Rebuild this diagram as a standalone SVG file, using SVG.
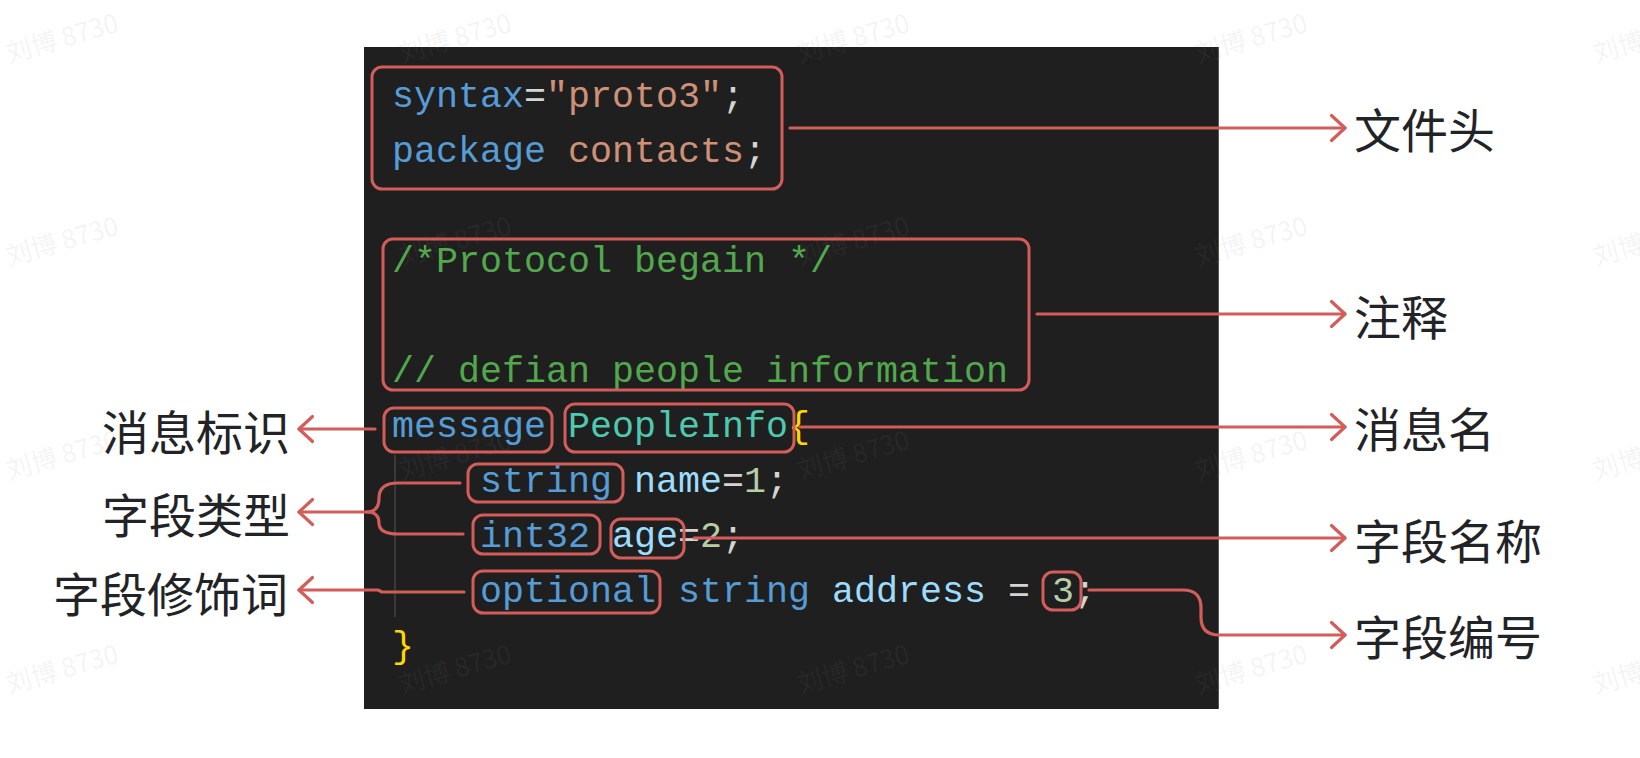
<svg xmlns="http://www.w3.org/2000/svg" width="1640" height="758" viewBox="0 0 1640 758">
<style>
.code{font-family:"Liberation Mono","DejaVu Sans Mono",monospace;font-size:36.67px}
.kw{fill:#569CD6}.str{fill:#CE9178}.pn{fill:#D4D4D4}.cm{fill:#52A84C}.ty{fill:#4EC9B0}.br{fill:#FFD700}.id{fill:#9CDCFE}.num{fill:#B5CEA8}
.box{fill:none;stroke:#D35D5A;stroke-width:3}
.conn{fill:none;stroke:#D35D5A;stroke-width:3.2;stroke-linecap:round;stroke-linejoin:round}
.lbl{font-family:"Noto Sans CJK SC","Noto Sans",sans-serif;font-size:47px;fill:#222326}
.wm{font-family:"Noto Sans CJK SC","Noto Sans",sans-serif;font-size:26px;fill:#888;fill-opacity:0.09}
</style>
<defs>
<marker id="arr" markerUnits="userSpaceOnUse" markerWidth="1" markerHeight="1" refX="0" refY="0" orient="auto" overflow="visible">
<path d="M-13.5,-12.5 L0,0 L-13.5,12.5" fill="none" stroke="#D35D5A" stroke-width="3.2" stroke-linecap="round" stroke-linejoin="round"/>
</marker>
</defs>
<rect width="1640" height="758" fill="#FFFFFF"/>
<g id="panel">
<rect x="364" y="47" width="855" height="662" fill="#1F1F1F"/>
<line x1="1218.5" y1="47" x2="1218.5" y2="709" stroke="#555" stroke-width="1"/>
<line x1="395" y1="455" x2="395" y2="617" stroke="#444" stroke-width="1.5"/>
</g>
<g id="code" class="code">
<text y="107"><tspan x="392" class="kw">syntax</tspan><tspan x="524" class="pn">=</tspan><tspan x="546" class="str">"proto3"</tspan><tspan x="722" class="pn">;</tspan></text>
<text y="162"><tspan x="392" class="kw">package</tspan><tspan x="568" class="str">contacts</tspan><tspan x="744" class="pn">;</tspan></text>
<text y="272" x="392" class="cm">/*Protocol begain */</text>
<text y="382" x="392" class="cm">// defian people information</text>
<text y="437"><tspan x="392" class="kw">message</tspan><tspan x="568" class="ty">PeopleInfo</tspan><tspan x="788" class="br">{</tspan></text>
<text y="492"><tspan x="480" class="kw">string</tspan><tspan x="634" class="id">name</tspan><tspan x="722" class="pn">=</tspan><tspan x="744" class="num">1</tspan><tspan x="766" class="pn">;</tspan></text>
<text y="547"><tspan x="480" class="kw">int32</tspan><tspan x="612" class="id">age</tspan><tspan x="678" class="pn">=</tspan><tspan x="700" class="num">2</tspan><tspan x="722" class="pn">;</tspan></text>
<text y="602"><tspan x="480" class="kw">optional</tspan><tspan x="678" class="kw">string</tspan><tspan x="832" class="id">address</tspan><tspan x="1008" class="pn">=</tspan><tspan x="1052" class="num">3</tspan><tspan x="1074" class="pn">;</tspan></text>
<text y="657" x="392" class="br">}</text>
</g>
<g id="watermarks" class="wm">
<text transform="translate(9,63) rotate(-16)">刘博 8730</text>
<text transform="translate(402,63) rotate(-16)">刘博 8730</text>
<text transform="translate(800,63) rotate(-16)">刘博 8730</text>
<text transform="translate(1198,63) rotate(-16)">刘博 8730</text>
<text transform="translate(1596,63) rotate(-16)">刘博 8730</text>
<text transform="translate(9,266) rotate(-16)">刘博 8730</text>
<text transform="translate(402,266) rotate(-16)">刘博 8730</text>
<text transform="translate(800,266) rotate(-16)">刘博 8730</text>
<text transform="translate(1198,266) rotate(-16)">刘博 8730</text>
<text transform="translate(1596,266) rotate(-16)">刘博 8730</text>
<text transform="translate(9,480) rotate(-16)">刘博 8730</text>
<text transform="translate(402,480) rotate(-16)">刘博 8730</text>
<text transform="translate(800,480) rotate(-16)">刘博 8730</text>
<text transform="translate(1198,480) rotate(-16)">刘博 8730</text>
<text transform="translate(1596,480) rotate(-16)">刘博 8730</text>
<text transform="translate(9,694) rotate(-16)">刘博 8730</text>
<text transform="translate(402,694) rotate(-16)">刘博 8730</text>
<text transform="translate(800,694) rotate(-16)">刘博 8730</text>
<text transform="translate(1198,694) rotate(-16)">刘博 8730</text>
<text transform="translate(1596,694) rotate(-16)">刘博 8730</text>
</g>
<g id="box-header"><rect class="box" x="372" y="67" width="410" height="122" rx="10"/></g>
<g id="box-comment"><rect class="box" x="383" y="239" width="646" height="151" rx="10"/></g>
<g id="box-message"><rect class="box" x="384" y="408" width="168" height="44" rx="10"/></g>
<g id="box-peopleinfo"><rect class="box" x="565" y="404" width="229" height="48" rx="10"/></g>
<g id="box-string"><rect class="box" x="468" y="464" width="155" height="38" rx="10"/></g>
<g id="box-int32"><rect class="box" x="473" y="515" width="127" height="39" rx="10"/></g>
<g id="box-age"><rect class="box" x="611" y="519" width="73" height="39" rx="10"/></g>
<g id="box-optional"><rect class="box" x="473" y="571" width="187" height="42" rx="10"/></g>
<g id="box-num"><rect class="box" x="1043" y="572" width="38" height="38" rx="10"/></g>
<g id="connectors">
<path class="conn" d="M790,128 H1345" marker-end="url(#arr)"/>
<path class="conn" d="M1037,314 H1345" marker-end="url(#arr)"/>
<path class="conn" d="M800,427 H1345" marker-end="url(#arr)"/>
<path class="conn" d="M694,538 H1345" marker-end="url(#arr)"/>
<path class="conn" d="M1089,590 H1183 Q1201,590 1201,608 V617 Q1201,635 1219,635 H1345" marker-end="url(#arr)"/>
<path class="conn" d="M375,429 H299" marker-end="url(#arr)"/>
<path class="conn" d="M463,534 H398 Q379,534 379,523 Q379,512 367,512"/>
<path class="conn" d="M460,483 H398 Q379,483 379,498 Q379,512 367,512 H299" marker-end="url(#arr)"/>
<path class="conn" d="M464,592 H382 L378,590 H299" marker-end="url(#arr)"/>
</g>
<g id="label-wenjiantou"><text class="lbl" x="1354" y="148">文件头</text></g>
<g id="label-zhushi"><text class="lbl" x="1354" y="335">注释</text></g>
<g id="label-xiaoximing"><text class="lbl" x="1354" y="447">消息名</text></g>
<g id="label-ziduanmingcheng"><text class="lbl" x="1354" y="559">字段名称</text></g>
<g id="label-ziduanbianhao"><text class="lbl" x="1354" y="655">字段编号</text></g>
<g id="label-xiaoxibiaoshi"><text class="lbl" x="290" y="450" text-anchor="end">消息标识</text></g>
<g id="label-ziduanleixing"><text class="lbl" x="290" y="533" text-anchor="end">字段类型</text></g>
<g id="label-ziduanxiushici"><text class="lbl" x="288" y="612" text-anchor="end">字段修饰词</text></g>
</svg>
